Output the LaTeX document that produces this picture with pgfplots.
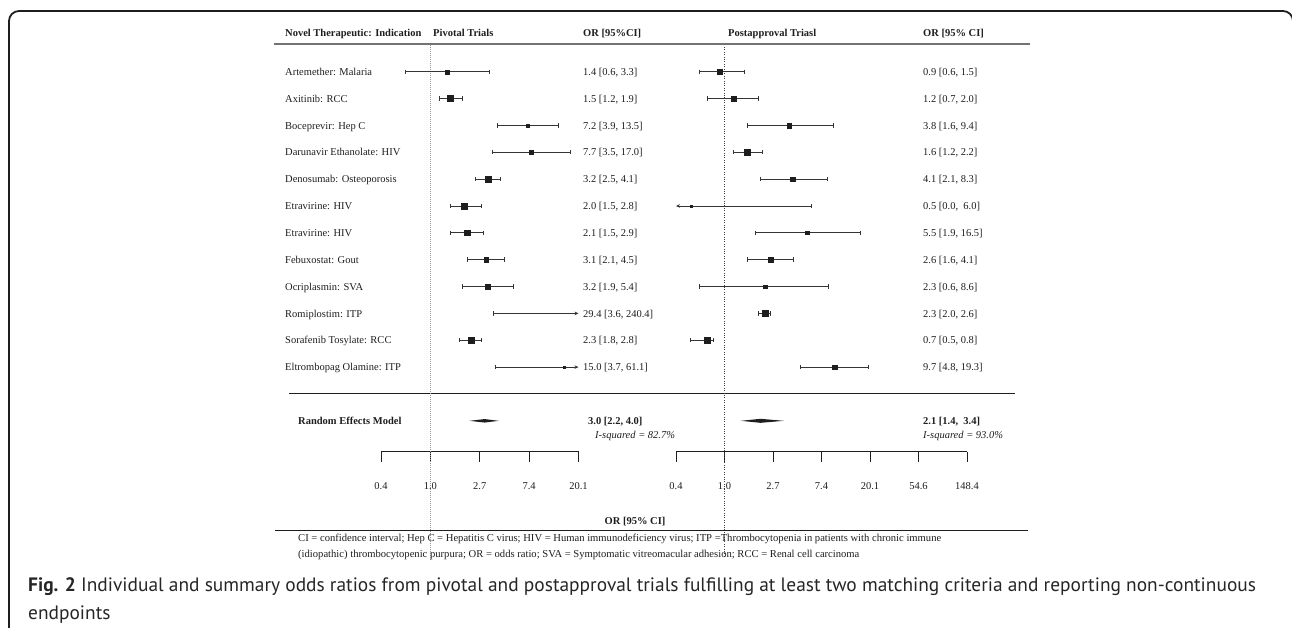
\documentclass[border=0pt]{standalone}
\usepackage{fontspec}
\setmainfont{Liberation Serif}
\newfontfamily\capfont{PT Sans}
\usepackage{pgfplots}
\usepackage{pgfplotstable}
\pgfplotsset{compat=1.18}
\usetikzlibrary{arrows.meta}

% ---------- Pivotal trials (left panel) ----------
% point estimates (row index negative, ms = half width of square)
\pgfplotstableread{
or row ms
1.4 -1 2.0
1.5 -2 3.0
7.2 -3 1.7
7.7 -4 1.8
3.2 -5 3.0
2.0 -6 3.0
2.1 -7 2.8
3.1 -8 2.3
3.2 -9 2.3
2.3 -11 3.0
15.0 -12 1.2
}\leftpts
% confidence intervals
\pgfplotstableread{
x y
0.6 -1
3.3 -1
nan nan
1.2 -2
1.9 -2
nan nan
3.9 -3
13.5 -3
nan nan
3.5 -4
17.0 -4
nan nan
2.5 -5
4.1 -5
nan nan
1.5 -6
2.8 -6
nan nan
1.5 -7
2.9 -7
nan nan
2.1 -8
4.5 -8
nan nan
1.9 -9
5.4 -9
nan nan
1.8 -11
2.8 -11
}\leftci

% ---------- Postapproval trials (right panel) ----------
\pgfplotstableread{
or row ms
0.9 -1 2.5
1.2 -2 2.5
3.8 -3 2.3
1.6 -4 3.0
4.1 -5 2.3
0.5 -6 0.9
5.5 -7 1.8
2.6 -8 2.3
2.3 -9 1.8
2.3 -10 2.8
0.7 -11 2.8
9.7 -12 2.3
}\rightpts
\pgfplotstableread{
x y
0.6 -1
1.5 -1
nan nan
0.7 -2
2.0 -2
nan nan
1.6 -3
9.4 -3
nan nan
1.2 -4
2.2 -4
nan nan
2.1 -5
8.3 -5
nan nan
1.9 -7
16.5 -7
nan nan
1.6 -8
4.1 -8
nan nan
0.6 -9
8.6 -9
nan nan
2.0 -10
2.6 -10
nan nan
0.5 -11
0.8 -11
nan nan
4.8 -12
19.3 -12
}\rightci

\newcommand\lab{\fontsize{10.5}{12}\selectfont}
\newcommand\fnt{\fontsize{10.6}{12}\selectfont}
\definecolor{ink}{HTML}{1E1E1E}

\pgfplotsset{
  myax/.style={
    scale only axis, height=406.85pt,
    ymin=-15.15, ymax=0,
    axis x line*=bottom, axis y line=none,
    ytick=\empty, xminorticks=false,
    xtick align=outside, major tick length=10pt,
    tick style={ink, line width=0.9pt},
    axis line style={ink, line width=0.9pt, -},
    xticklabel style={font=\lab, text=ink, yshift=-17pt},
    clip=false, anchor=north west,
    unbounded coords=jump,
  },
  myci/.style={ink!90, line width=0.8pt, mark=|, mark size=2.2pt, mark options={solid, line width=0.8pt}},
  mypts/.style={scatter, only marks, mark=square*,
    scatter/use mapped color={draw=ink, fill=ink},
    visualization depends on={\thisrow{ms} \as \perpointmarksize},
    scatter/@pre marker code/.append style={/tikz/mark size=\perpointmarksize}},
  myarr/.style={ink!90, line width=0.8pt, -{Stealth[length=4pt,width=3.6pt]}, mark=|, mark size=2.2pt, mark indices={1}, mark options={solid}},
}

\begin{document}
\begin{tikzpicture}[x=1pt,y=1pt]
\path[use as bounding box] (0,0) rectangle (1292,-628);

% frame
\draw[line width=1.8pt, ink, rounded corners=10pt] (9,-640) -- (9,-11) -- (1293,-11) -- (1293,-640);

% horizontal rules
\draw[line width=1.6pt, black!55] (274,-44) -- (1030,-44);
\draw[line width=1pt, ink] (289,-393) -- (1015,-393);
\draw[line width=1pt, ink] (275,-530) -- (1028,-530);

% ---- left panel ----
\begin{axis}[xmode=log, myax, at={(381pt,-44.85pt)}, width=197.5pt,
  xmin=0.36788, xmax=20.0855,
  xtick={0.36788,1,2.71828,7.38906,20.0855},
  xticklabels={0.4,1.0,2.7,7.4,20.1}]
\addplot[gray!80, line width=0.8pt, dash pattern=on 0.8pt off 1.2pt] coordinates {(1,0) (1,-19.2)};
\addplot[myci] table[x=x,y=y] {\leftci};
\addplot[myarr] coordinates {(3.6,-10) (20.0855,-10)};   % 29.4 [3.6, 240.4]
\addplot[myarr] coordinates {(3.7,-12) (20.0855,-12)};   % 15.0 [3.7, 61.1]
\addplot[mypts] table[x=or,y=row] {\leftpts};
% random effects: 3.0 [2.2, 4.0]
\addplot[fill=ink, draw=none] coordinates {(2.2,-14) (3.0,-13.935) (4.0,-14) (3.0,-14.065)};
\end{axis}

% ---- right panel ----
\begin{axis}[xmode=log, myax, at={(676pt,-44.85pt)}, width=291pt,
  xmin=0.36788, xmax=148.413,
  xtick={0.36788,1,2.71828,7.38906,20.0855,54.5982,148.413},
  xticklabels={0.4,1.0,2.7,7.4,20.1,54.6,148.4}]
\addplot[black!75, line width=0.8pt, dash pattern=on 0.8pt off 1.6pt] coordinates {(1,-0.08) (1,-19.1)};
\addplot[myci] table[x=x,y=y] {\rightci};
\addplot[myarr] coordinates {(6.0,-6) (0.36788,-6)};   % 0.5 [0.0, 6.0]
\addplot[mypts] table[x=or,y=row] {\rightpts};
% random effects: 2.1 [1.4, 3.4]
\addplot[fill=ink, draw=none] coordinates {(1.4,-14) (2.1,-13.925) (3.4,-14) (2.1,-14.075)};
\end{axis}

% ---- text ----
\begin{scope}[shift={(0,-44.85)}, y=-26.855pt,
  every node/.style={inner sep=0pt, anchor=base west, font=\lab, text=ink, yshift=-3.6pt}]
\node[font=\lab\bfseries] at (285,-0.45) {Novel Therapeutic: Indication};
\node[font=\lab\bfseries] at (433,-0.45) {Pivotal Trials};
\node[font=\lab\bfseries] at (583,-0.45) {OR [95\%CI]};
\node[font=\lab\bfseries] at (728,-0.45) {Postapproval Triasl};
\node[font=\lab\bfseries] at (923,-0.45) {OR [95\% CI]};

\node at (285,1) {Artemether: Malaria};
\node at (285,2) {Axitinib: RCC};
\node at (285,3) {Boceprevir: Hep C};
\node at (285,4) {Darunavir Ethanolate: HIV};
\node at (285,5) {Denosumab: Osteoporosis};
\node at (285,6) {Etravirine: HIV};
\node at (285,7) {Etravirine: HIV};
\node at (285,8) {Febuxostat: Gout};
\node at (285,9) {Ocriplasmin: SVA};
\node at (285,10) {Romiplostim: ITP};
\node at (285,11) {Sorafenib Tosylate: RCC};
\node at (285,12) {Eltrombopag Olamine: ITP};

\node at (583,1) {1.4 [0.6, 3.3]};
\node at (583,2) {1.5 [1.2, 1.9]};
\node at (583,3) {7.2 [3.9, 13.5]};
\node at (583,4) {7.7 [3.5, 17.0]};
\node at (583,5) {3.2 [2.5, 4.1]};
\node at (583,6) {2.0 [1.5, 2.8]};
\node at (583,7) {2.1 [1.5, 2.9]};
\node at (583,8) {3.1 [2.1, 4.5]};
\node at (583,9) {3.2 [1.9, 5.4]};
\node at (583,10) {29.4 [3.6, 240.4]};
\node at (583,11) {2.3 [1.8, 2.8]};
\node at (583,12) {15.0 [3.7, 61.1]};

\node at (923,1) {0.9 [0.6, 1.5]};
\node at (923,2) {1.2 [0.7, 2.0]};
\node at (923,3) {3.8 [1.6, 9.4]};
\node at (923,4) {1.6 [1.2, 2.2]};
\node at (923,5) {4.1 [2.1, 8.3]};
\node at (923,6) {0.5 [0.0,\ \ 6.0]};
\node at (923,7) {5.5 [1.9, 16.5]};
\node at (923,8) {2.6 [1.6, 4.1]};
\node at (923,9) {2.3 [0.6, 8.6]};
\node at (923,10) {2.3 [2.0, 2.6]};
\node at (923,11) {0.7 [0.5, 0.8]};
\node at (923,12) {9.7 [4.8, 19.3]};

\node[font=\lab\bfseries] at (298,14) {Random Effects Model};
\node[font=\lab\bfseries] at (588,14) {3.0 [2.2, 4.0]};
\node[font=\lab\itshape] at (595,14.52) {I-squared = 82.7\%};
\node[font=\lab\bfseries] at (923,14) {2.1 [1.4,\ \ 3.4]};
\node[font=\lab\itshape] at (923,14.52) {I-squared = 93.0\%};
\end{scope}

\node[anchor=base, inner sep=0pt, font=\lab\bfseries, text=ink] at (635,-524.3) {OR [95\% CI]};
\node[anchor=base west, inner sep=0pt, font=\fnt, text=ink] at (298,-541.2) {CI = confidence interval; Hep C = Hepatitis C virus; HIV = Human immunodeficiency virus; ITP =Thrombocytopenia in patients with chronic immune};
\node[anchor=base west, inner sep=0pt, font=\fnt, text=ink] at (298,-557.8) {(idiopathic) thrombocytopenic purpura; OR = odds ratio; SVA = Symptomatic vitreomacular adhesion; RCC = Renal cell carcinoma};

% caption
\node[anchor=base west, inner sep=0pt, font=\capfont\fontsize{19.4}{22}\selectfont, text=black!85] at (28,-591) {\textbf{Fig. 2} Individual and summary odds ratios from pivotal and postapproval trials fulfilling at least two matching criteria and reporting non-continuous};
\node[anchor=base west, inner sep=0pt, font=\capfont\fontsize{19.4}{22}\selectfont, text=black!85] at (28,-619) {endpoints};
\end{tikzpicture}
\end{document}
